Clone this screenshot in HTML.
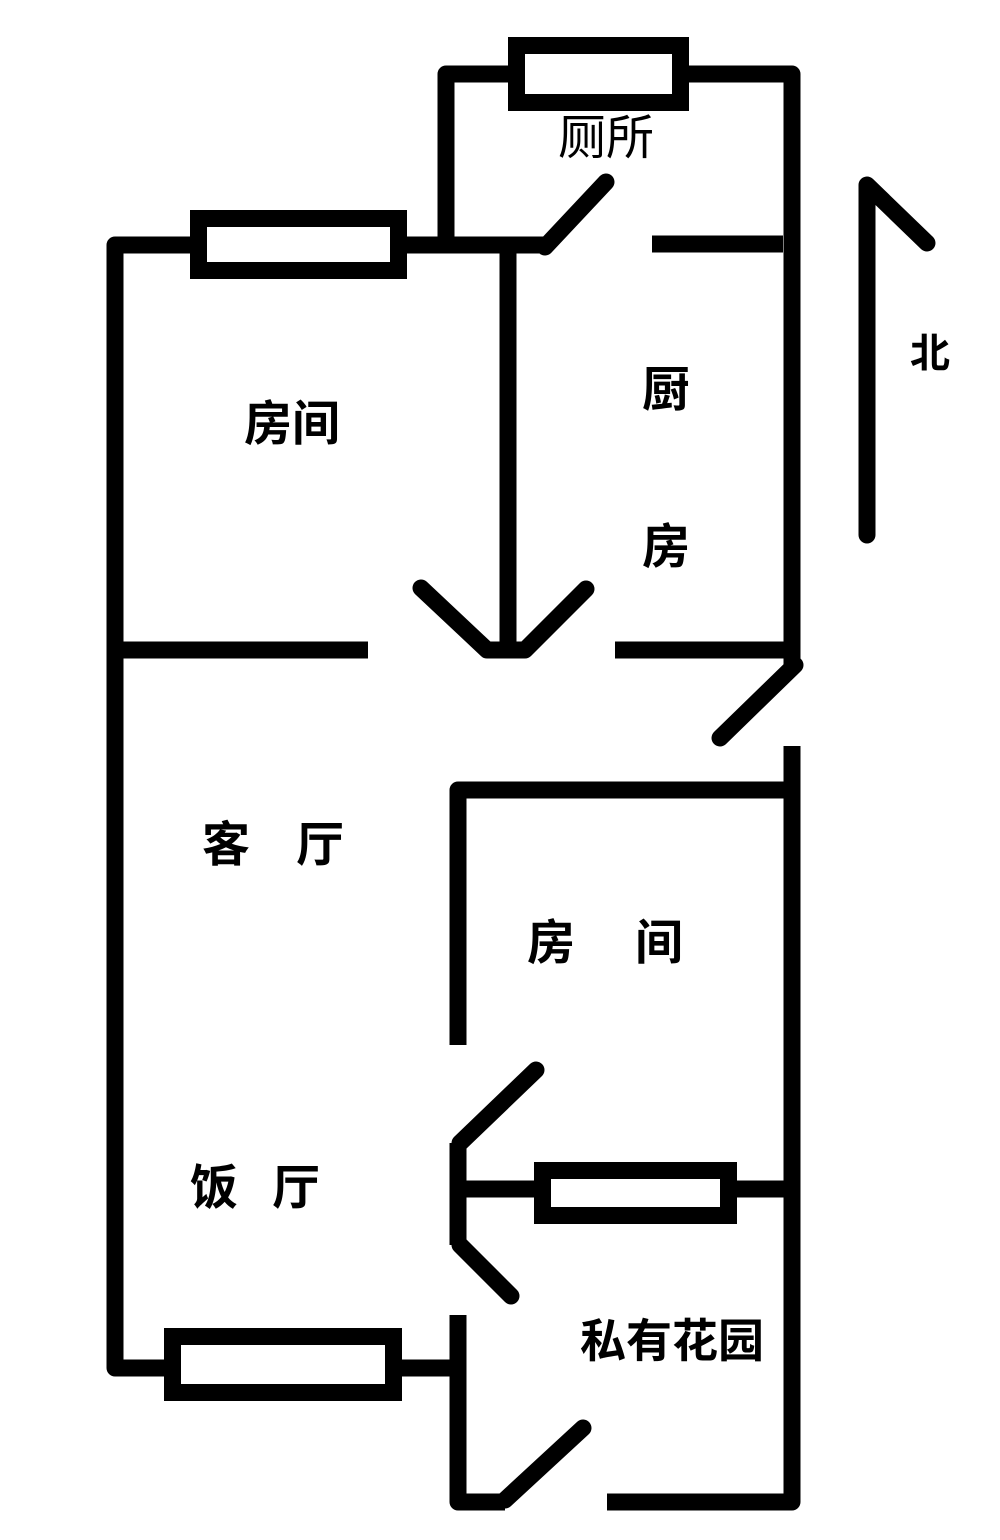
<!DOCTYPE html>
<html><head><meta charset="utf-8"><style>
html,body{margin:0;padding:0;background:#fff;}
svg{display:block;}
text{font-family:"Liberation Sans","Noto Sans CJK SC",sans-serif;font-weight:bold;fill:#000;font-size:48px;}
</style></head><body>
<svg width="1000" height="1540" viewBox="0 0 1000 1540" xmlns="http://www.w3.org/2000/svg">
<g fill="none" stroke="#000" stroke-width="17" stroke-linejoin="round" stroke-linecap="butt">
<!-- outer left -->
<path d="M190,245 L115,245 L115,1368 L164,1368"/>
<rect x="198.5" y="218.5" width="200" height="52" stroke-linejoin="miter"/>
<path d="M407,245 L545,245"/>
<!-- bath -->
<path d="M446,245 L446,74 L508,74"/>
<rect x="516.5" y="45.5" width="164" height="57" stroke-linejoin="miter"/>
<path d="M689,74 L792,74 L792,665"/>
<path d="M652,244 L783,244"/>
<path d="M508,244 L508,650"/>
<path d="M108,650 L368,650"/>
<path d="M615,650 L792,650"/>
<path d="M792,746 L792,1502 L607,1502"/>
<path d="M458,1045 L458,790 L792,790"/>
<path d="M458,1143 L458,1245"/>
<path d="M458,1189 L534,1189"/>
<rect x="542.5" y="1170.5" width="186" height="45" stroke-linejoin="miter"/>
<path d="M737,1189 L792,1189"/>
<rect x="172.5" y="1336.5" width="221" height="56" stroke-linejoin="miter"/>
<path d="M402,1368 L458,1368"/>
<path d="M458,1315 L458,1502 L505,1502"/>
</g>
<g fill="none" stroke="#000" stroke-width="17" stroke-linejoin="round" stroke-linecap="round">
<path d="M545,247 L606,182"/>
<path d="M421,588 L487,650 L525,650 L586,589"/>
<path d="M795,665 L720,738"/>
<path d="M536,1070 L460,1143"/>
<path d="M460,1245 L511,1296"/>
<path d="M505,1500 L583,1428"/>
<path d="M927,243 L867,185 L867,535"/>
</g>
<text x="558" y="154" style="font-weight:normal;font-size:48px">厕所</text>
<text x="244" y="440" font-size="46">房间</text>
<text x="642" y="406">厨</text>
<text x="642" y="563">房</text>
<text x="202" y="861">客</text>
<text x="296" y="861">厅</text>
<text x="527" y="959">房</text>
<text x="635" y="959">间</text>
<text x="190" y="1204">饭</text>
<text x="272" y="1204">厅</text>
<text x="580" y="1357" style="font-size:46px">私有花园</text>
<text x="910" y="367" style="font-size:40px">北</text>
</svg>
</body></html>
